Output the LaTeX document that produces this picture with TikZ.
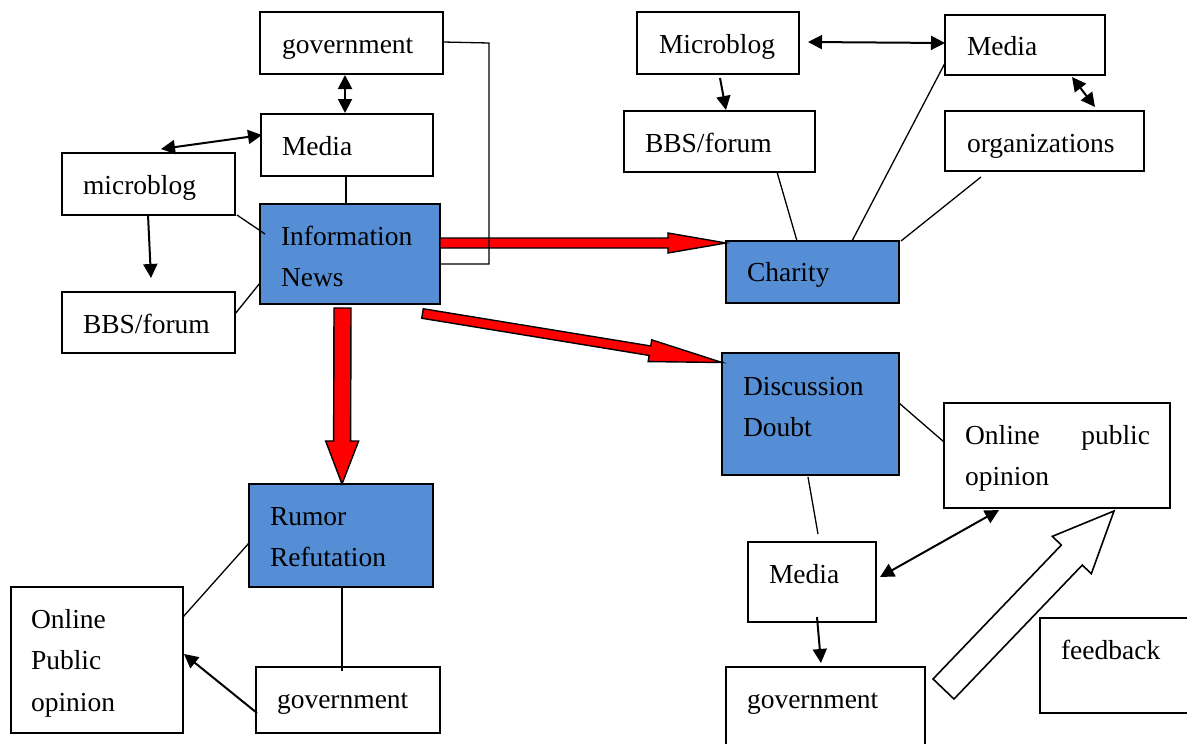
\documentclass[tikz,border=0pt]{standalone}
\usepackage{fontspec}
\setmainfont{Liberation Serif}
\usetikzlibrary{arrows.meta,calc,fit}
\definecolor{nodeblue}{RGB}{85,142,213}
\newcommand\mlines[1]{\begin{tabular}[t]{@{}l@{}}#1\end{tabular}}
\newcommand\blockarrow[6]{% #1 style, #2 start, #3 tip, #4 shaft half, #5 head half, #6 head length
  \coordinate (ba-h) at ($(#3)!#6!(#2)$);
  \draw[#1] ($(#2)!#4!90:(#3)$) -- ($(ba-h)!#4!90:(#3)$) -- ($(ba-h)!#5!90:(#3)$) -- (#3)
    -- ($(ba-h)!#5!-90:(#3)$) -- ($(ba-h)!#4!-90:(#3)$) -- ($(#2)!#4!-90:(#3)$) -- cycle;}
\begin{document}
\begin{tikzpicture}[x=1pt,y=-1pt,
  font=\fontsize{27.5pt}{41.5pt}\selectfont,
  box/.style={draw, line width=1.8pt, inner sep=0pt, outer sep=0pt, fill=white},
  hub/.style={box, fill=nodeblue},
  lbl/.style={anchor=base west, inner sep=0pt, outer sep=0pt},
  link/.style={line width=1.3pt},
  arr/.style={line width=2pt, -{Triangle[length=14pt,width=14pt]}},
  darr/.style={line width=2pt, {Triangle[length=14pt,width=14pt]}-{Triangle[length=14pt,width=14pt]}},
  redarr/.style={fill=red, draw=black, line width=1.4pt, line join=miter},
  hollow/.style={fill=white, draw=black, line width=1.6pt, line join=miter}]
\useasboundingbox (0,0) rectangle (1187,744);
\clip (0,0) rectangle (1187,744);

% boxes
\node[box, fit={(260,12) (443,74)}] (gov1) {};
\node[box, fit={(261,114) (433,176)}] (med1) {};
\node[box, fit={(62,153) (235,215)}] (mic1) {};
\node[hub, fit={(260,204) (440,304)}] (info) {};
\node[box, fit={(62,292) (235,353)}] (bbs1) {};
\node[box, fit={(637,12) (799,74)}] (mic2) {};
\node[box, fit={(945,15) (1105,75)}] (med2) {};
\node[box, fit={(624,111) (815,172)}] (bbs2) {};
\node[box, fit={(945,111) (1144,171)}] (org) {};
\node[hub, fit={(726,241) (899,303)}] (char) {};
\node[hub, fit={(722,353) (899,475)}] (disc) {};
\node[box, fit={(944,403) (1170,508)}] (opo2) {};
\node[box, fit={(748,542) (876,622)}] (med3) {};
\node[box, fit={(726,667) (925,770)}] (gov3) {};
\node[box, fit={(1040,618) (1200,713)}] (feed) {};
\node[hub, fit={(249,484) (433,587)}] (rum) {};
\node[box, fit={(11,587) (183,733)}] (opo1) {};
\node[box, fit={(256,667) (440,733)}] (gov2) {};

% red block arrows
\coordinate (r1s) at ($(info.north east)+(0,39)$);
\coordinate (r1e) at ($(char.north west)+(0,2)$);
\blockarrow{redarr}{r1s}{r1e}{5pt}{10pt}{58pt}
\coordinate (r2s) at ($(info.south west)+(82.5,4)$);
\coordinate (r2e) at ($(rum.north west)+(93,0)$);
\blockarrow{redarr}{r2s}{r2e}{8.5pt}{16.5pt}{43pt}
\coordinate (r3s) at ($(info.south east)+(-17.5,9.5)$);
\coordinate (r3e) at ($(disc.north west)+(0,9.5)$);
\blockarrow{redarr}{r3s}{r3e}{4.8pt}{11pt}{73pt}
% hollow feedback arrow
\coordinate (h1s) at ($(gov3.north east)+(18.5,22)$);
\coordinate (h1e) at ($(opo2.south west)+(170,3)$);
\blockarrow{hollow}{h1s}{h1e}{14.5pt}{27pt}{61pt}

% left cluster connectors
\draw[darr] ($(gov1.south west)+(85,1)$) -- ($(med1.north west)+(84,-1)$);
\draw[darr] ($(med1.north west)+(1,21)$) -- ($(mic1.north west)+(99,-4)$);
\draw[link] ($(med1.south west)+(85,0)$) -- ($(info.north west)+(86,0)$);
\draw[link] ($(mic1.south east)+(2,0)$) -- ($(info.north west)+(5,30)$);
\draw[arr] ($(mic1.south west)+(86,0)$) -- ($(bbs1.north west)+(89,-14)$);
\draw[link] ($(bbs1.north east)+(0,22)$) -- ($(info.south west)+(0,-21)$);
\draw[link] ($(gov1.north east)+(0,30)$) -- ++(46,1) |- ($(info.south east)+(0,-40)$);

% top right connectors
\draw[darr] ($(mic2.north east)+(9,30)$) -- ($(med2.north west)+(0,28)$);
\draw[arr] ($(mic2.south west)+(83,4)$) -- ($(bbs2.north west)+(102,-1)$);
\draw[darr] ($(med2.south west)+(127,2)$) -- ($(org.north west)+(150,-4)$);
\draw[link] ($(bbs2.south west)+(153,0)$) -- ($(char.north west)+(71,0)$);
\draw[link] ($(med2.north west)+(0,48)$) -- ($(char.north west)+(126,0)$);
\draw[link] ($(org.south west)+(36,6)$) -- ($(char.north east)+(2,0)$);

% lower right connectors
\draw[link] ($(disc.north east)+(0,50)$) -- ($(opo2.north west)+(0,39)$);
\draw[link] ($(disc.south west)+(86,2)$) -- ($(med3.north west)+(70,-8)$);
\draw[darr] ($(med3.north east)+(4,35)$) -- ($(opo2.south west)+(55,2)$);
\draw[arr] ($(med3.south west)+(69,-5)$) -- ($(gov3.north west)+(95,-4)$);

% lower left connectors
\draw[link] ($(opo1.north east)+(0,30)$) -- ($(rum.north west)+(0,59)$);
\draw[link] ($(rum.south west)+(93,0)$) -- ($(gov2.north west)+(86,4)$);
\draw[arr] ($(gov2.south west)+(1,-20)$) -- ($(opo1.north east)+(1,67)$);

% texts
\node[lbl] (tgov1) at ($(gov1.north west)+(22,41)$) {government};
\node[lbl] (tmed1) at ($(med1.north west)+(21,41)$) {Media};
\node[lbl] (tmic1) at ($(mic1.north west)+(21,41)$) {microblog};
\node[lbl] (tinfo) at ($(info.north west)+(21,41)$) {\mlines{Information\\News}};
\node[lbl] (tbbs1) at ($(bbs1.north west)+(21,41)$) {BBS/forum};
\node[lbl] (tmic2) at ($(mic2.north west)+(22,41)$) {Microblog};
\node[lbl] (tmed2) at ($(med2.north west)+(22,41)$) {Media};
\node[lbl] (tbbs2) at ($(bbs2.north west)+(21,41)$) {BBS/forum};
\node[lbl] (torg) at ($(org.north west)+(22,41)$) {organizations};
\node[lbl] (tchar) at ($(char.north west)+(21,40)$) {Charity};
\node[lbl] (tdisc) at ($(disc.north west)+(21,42)$) {\mlines{Discussion\\Doubt}};
\node[lbl] (topo2) at ($(opo2.north west)+(21,41)$) {\mlines{\hbox to 185pt{Online\hfill public}\\opinion}};
\node[lbl] (tmed3) at ($(med3.north west)+(21,41)$) {Media};
\node[lbl] (tgov3) at ($(gov3.north west)+(21,41)$) {government};
\node[lbl] (tfeed) at ($(feed.north west)+(21,41)$) {feedback};
\node[lbl] (trum) at ($(rum.north west)+(21,41)$) {\mlines{Rumor\\Refutation}};
\node[lbl] (topo1) at ($(opo1.north west)+(20,41)$) {\mlines{Online\\Public\\opinion}};
\node[lbl] (tgov2) at ($(gov2.north west)+(21,41)$) {government};
\end{tikzpicture}
\end{document}
